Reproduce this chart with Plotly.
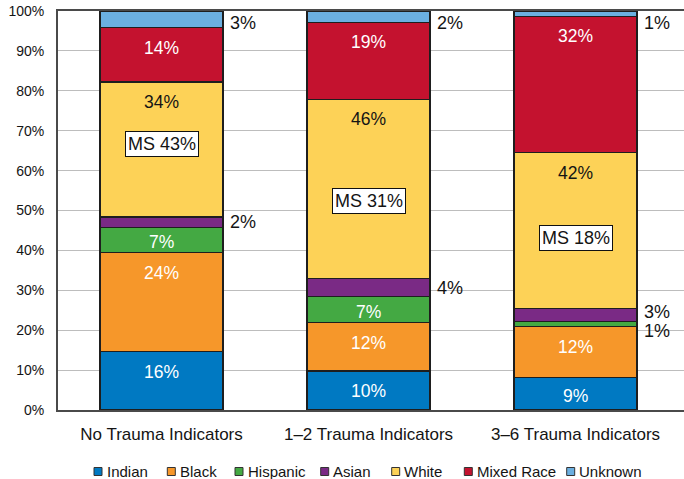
import plotly.graph_objects as go

# ---------------- data ----------------
categories = ["No Trauma Indicators", "1–2 Trauma Indicators", "3–6 Trauma Indicators"]

indian = [14.6, 9.8, 8.1]
black = [24.8, 12.1, 12.8]
hispanic = [6.4, 6.5, 1.2]
asian = [2.6, 4.5, 3.3]
white = [33.8, 45.0, 39.1]
mixed_race = [13.6, 19.3, 34.2]
unknown = [4.2, 2.8, 1.3]

indian_labels = ["16%", "10%", "9%"]
black_labels = ["24%", "12%", "12%"]
hispanic_labels = ["7%", "7%", "1%"]
asian_labels = ["2%", "4%", "3%"]
white_labels = ["34%", "46%", "42%"]
mixed_race_labels = ["14%", "19%", "32%"]
unknown_labels = ["3%", "2%", "1%"]
ms_labels = ["MS 43%", "MS 31%", "MS 18%"]

y_tick_values = [0, 10, 20, 30, 40, 50, 60, 70, 80, 90, 100]
y_tick_labels = ["0%", "10%", "20%", "30%", "40%", "50%", "60%", "70%", "80%", "90%", "100%"]

# ---------------- style ----------------
FONT = "Liberation Sans, Arial, sans-serif"
TEXT = "#141414"
W, H = 684, 479
ML, MR, MT, MB = 58, 0, 11, 69
PLOT_W = W - ML - MR
PLOT_H = H - MT - MB
X_RANGE = [-0.5, 2.524]
PX_PER_UNIT_X = PLOT_W / (X_RANGE[1] - X_RANGE[0])
PX_PER_PCT = PLOT_H / 100.0
BAR_WIDTH = 0.595
BAR_W_PX = BAR_WIDTH * PX_PER_UNIT_X

series = [
    ("Indian", indian, indian_labels, "#0079C2", "white", "in"),
    ("Black", black, black_labels, "#F6972A", "white", "in"),
    ("Hispanic", hispanic, hispanic_labels, "#44A943", "white", "in"),
    ("Asian", asian, asian_labels, "#7A2A85", TEXT, "out"),
    ("White", white, white_labels, "#FDD257", TEXT, "in"),
    ("Mixed Race", mixed_race, mixed_race_labels, "#C4122F", "white", "in"),
    ("Unknown", unknown, unknown_labels, "#6BAFE0", TEXT, "top"),
]
# small values drawn outside on the right
force_out = {(2, "Hispanic")}
out_nudge = {(2, "Asian"): 3, (2, "Hispanic"): -7}
ms_nudge = [5, -12, -7]

fig = go.Figure()
for name, vals, labels, color, tcolor, place in series:
    fig.add_trace(go.Bar(
        x=categories, y=vals, name=name, width=BAR_WIDTH,
        marker=dict(color=color, line=dict(color="#1e1e1e", width=1.3)),
        showlegend=False, hoverinfo="skip",
    ))

annotations = []
cum = [0.0, 0.0, 0.0]
for name, vals, labels, color, tcolor, place in series:
    for i, cat in enumerate(categories):
        bottom = cum[i]
        top = bottom + vals[i]
        seg_px = vals[i] * PX_PER_PCT
        p = "out" if (i, name) in force_out else place
        if p == "in":
            annotations.append(dict(
                x=cat, y=top, xref="x", yref="y", text=labels[i], showarrow=False,
                yanchor="middle", yshift=-min(20, seg_px / 2 + 2),
                font=dict(family=FONT, size=17.5, color=tcolor)))
        elif p == "out":
            annotations.append(dict(
                x=cat, y=(bottom + top) / 2, xref="x", yref="y", text=labels[i],
                showarrow=False, xanchor="left", yanchor="middle",
                xshift=BAR_W_PX / 2 + 5, yshift=out_nudge.get((i, name), 0),
                font=dict(family=FONT, size=18, color=TEXT)))
        else:  # top
            annotations.append(dict(
                x=cat, y=100, xref="x", yref="y", text=labels[i],
                showarrow=False, xanchor="left", yanchor="middle",
                xshift=BAR_W_PX / 2 + 5, yshift=-11.5,
                font=dict(family=FONT, size=18, color=TEXT)))
        if name == "White":
            annotations.append(dict(
                x=cat, y=(bottom + top) / 2, xref="x", yref="y", text=ms_labels[i],
                showarrow=False, yanchor="middle", yshift=ms_nudge[i],
                bgcolor="white", bordercolor="#111111", borderwidth=1, borderpad=2,
                font=dict(family=FONT, size=18, color=TEXT)))
        cum[i] = top

# ---------------- legend (drawn manually for compact spacing) ----------------
legend_square_px = [94, 167.3, 235, 320.7, 391.7, 464.3, 566.7]
LEG_Y = 471.5
SQ = 8

def px_x(px):
    return (px - ML) / PLOT_W

def px_y(py):
    return (H - MB - py) / PLOT_H

shapes = []
for (name, vals, labels, color, tcolor, place), sx in zip(series, legend_square_px):
    shapes.append(dict(type="rect", xref="paper", yref="paper",
                       x0=px_x(sx), x1=px_x(sx + SQ),
                       y0=px_y(LEG_Y + SQ / 2), y1=px_y(LEG_Y - SQ / 2),
                       fillcolor=color, line=dict(color="#333333", width=1)))
    annotations.append(dict(x=px_x(sx + SQ + 2.5), y=px_y(LEG_Y), xref="paper", yref="paper",
                            text=name, showarrow=False, xanchor="left", yanchor="middle",
                            font=dict(family=FONT, size=15, color=TEXT)))

fig.update_layout(
    barmode="stack",
    width=W, height=H,
    margin=dict(l=ML, r=MR, t=MT, b=MB, pad=0),
    paper_bgcolor="white", plot_bgcolor="white",
    font=dict(family=FONT, color=TEXT),
    annotations=annotations,
    shapes=shapes,
    showlegend=False,
    xaxis=dict(
        range=X_RANGE, showgrid=False, showline=True, linecolor="#4a4a4a", linewidth=2,
        mirror=True, ticks="outside", ticklen=0, ticklabelstandoff=8,
        tickfont=dict(family=FONT, size=17, color=TEXT), fixedrange=True,
    ),
    yaxis=dict(
        range=[0, 100], tickvals=y_tick_values, ticktext=y_tick_labels,
        showgrid=True, gridcolor="#bdbdbd", gridwidth=1.4,
        showline=True, linecolor="#4a4a4a", linewidth=2,
        zeroline=False, ticks="outside", ticklen=0, ticklabelstandoff=9,
        tickfont=dict(family=FONT, size=14, color=TEXT), fixedrange=True,
    ),
)

fig.write_html(
    "out.html",
    config={"displayModeBar": False},
    post_script="document.body.style.margin='0';document.body.style.overflow='hidden';",
)
